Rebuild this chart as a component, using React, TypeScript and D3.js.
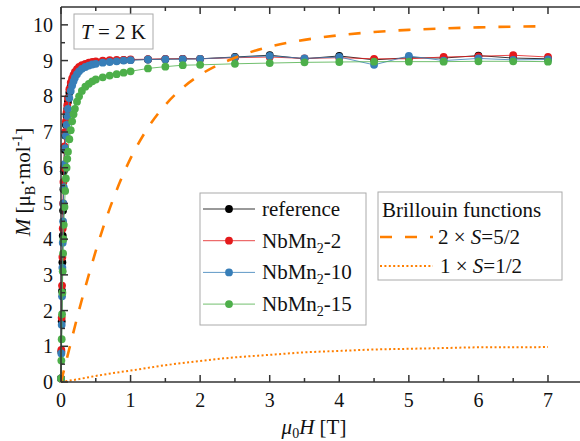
import React from 'react';
import * as d3 from 'd3';

// applied field (T), shared by all measured series
const fieldT = [
  0, 0.005, 0.01, 0.015, 0.02, 0.025, 0.03, 0.035, 0.04,
  0.05, 0.06, 0.07, 0.08, 0.09, 0.1,
  0.12, 0.14, 0.16, 0.18, 0.2,
  0.23, 0.26, 0.3,
  0.35, 0.4, 0.45, 0.5,
  0.6, 0.7, 0.8, 0.9, 1.0,
  1.25, 1.5, 1.75, 2.0,
  2.5, 3.0, 3.5, 4.0, 4.5, 5.0, 5.5, 6.0, 6.5, 7.0,
];

const referenceM = [
  0.1, 0.85, 1.7, 2.55, 3.35, 4.1, 4.8, 5.4, 5.9,
  6.5, 6.9, 7.2, 7.45, 7.65, 7.85,
  8.1, 8.3, 8.42, 8.52, 8.6,
  8.7, 8.77, 8.83,
  8.88, 8.91, 8.94, 8.96,
  8.98, 8.99, 9.0, 9.01, 9.02,
  9.03, 9.04, 9.05, 9.05,
  9.1, 9.15, 9.05, 9.13, 9.02, 9.08, 9.07, 9.14, 9.07, 9.05,
];

const nbmn2M = [
  0.1, 0.9, 1.8, 2.7, 3.5, 4.3, 5.0, 5.6, 6.0,
  6.6, 7.0, 7.3, 7.55, 7.75, 7.95,
  8.2, 8.38, 8.5, 8.6, 8.68,
  8.76, 8.82, 8.87,
  8.91, 8.94, 8.96, 8.98,
  9.0, 9.01, 9.02, 9.02, 9.03,
  9.04, 9.05, 9.05, 9.05,
  9.08, 9.1, 9.06, 9.08, 9.05, 9.05, 9.1, 9.12, 9.15, 9.1,
];

const nbmn10M = [
  0.1, 0.8, 1.6, 2.4, 3.2, 3.9, 4.5, 5.0, 5.45,
  6.1, 6.55, 6.9, 7.2, 7.45, 7.65,
  7.95, 8.15, 8.3, 8.42, 8.52,
  8.62, 8.7, 8.77,
  8.82, 8.86, 8.89, 8.91,
  8.94, 8.96, 8.98, 9.0, 9.01,
  9.03, 9.04, 9.04, 9.05,
  9.09, 9.13, 9.06, 9.1, 8.88, 9.13, 9.0, 9.06, 9.02, 9.03,
];

const nbmn15M = [
  0.1, 0.6, 1.2, 1.9, 2.5, 3.1, 3.6, 4.0, 4.4,
  4.9, 5.35, 5.7, 6.0, 6.25, 6.45,
  6.8, 7.05, 7.3, 7.5, 7.65,
  7.85, 8.0, 8.15,
  8.27, 8.35, 8.42, 8.47,
  8.53, 8.58, 8.62, 8.66, 8.7,
  8.78, 8.83, 8.87, 8.88,
  8.91, 8.93, 8.95, 8.96, 8.97, 8.97, 8.97, 8.98, 8.98, 8.97,
];

// Brillouin curves
const brill52H = [0, 0.05, 0.1, 0.15, 0.25, 0.35, 0.5, 0.65, 0.75, 0.9, 1, 1.25, 1.5, 1.75, 2, 2.5, 3, 3.5, 4, 4.5, 5, 5.5, 6, 6.5, 7];
const brill52M = [0, 0.39, 0.78, 1.17, 1.94, 2.66, 3.67, 4.58, 5.12, 5.84, 6.26, 7.12, 7.76, 8.24, 8.6, 9.08, 9.39, 9.58, 9.71, 9.8, 9.86, 9.9, 9.93, 9.95, 9.96];
const brill12H = [0, 0.25, 0.5, 0.75, 1, 1.5, 2, 2.5, 3, 3.5, 4, 4.5, 5, 5.5, 6, 6.5, 7];
const brill12M = [0, 0.08, 0.17, 0.25, 0.32, 0.47, 0.59, 0.69, 0.76, 0.83, 0.87, 0.91, 0.93, 0.95, 0.97, 0.97, 0.98];

const xTicks = [0, 1, 2, 3, 4, 5, 6, 7];
const xMinor = [0.5, 1.5, 2.5, 3.5, 4.5, 5.5, 6.5];
const yTicks = [0, 1, 2, 3, 4, 5, 6, 7, 8, 9, 10];
const yMinor = [0.5, 1.5, 2.5, 3.5, 4.5, 5.5, 6.5, 7.5, 8.5, 9.5];

const series = [
  { name: 'reference', sub: '', color: '#000000', values: referenceM },
  { name: 'NbMn', sub: '-2', color: '#E41A1C', values: nbmn2M },
  { name: 'NbMn', sub: '-10', color: '#377EB8', values: nbmn10M },
  { name: 'NbMn', sub: '-15', color: '#4DAF4A', values: nbmn15M },
];

const ORANGE = '#FF7F00';
const W = 580;
const H = 441;
const margin = { left: 61, top: 7, bottom: 382 };
const font = "Tinos, 'Noto Serif', FreeSerif, 'Nimbus Roman', Times, 'Liberation Serif', serif";

export default function App() {
  const x = d3.scaleLinear().domain([0, 7.5]).range([margin.left, margin.left + 69.57 * 7.5]);
  const y = d3.scaleLinear().domain([0, 10.5]).range([margin.bottom, margin.top]);
  const right = x(7.5);

  const seriesLine = d3.line<number>().x((_, i) => x(fieldT[i])).y(d => y(d));
  const curve52 = d3.line<number>().x((_, i) => x(brill52H[i])).y(d => y(d)).curve(d3.curveMonotoneX);
  const curve12 = d3.line<number>().x((_, i) => x(brill12H[i])).y(d => y(d)).curve(d3.curveMonotoneX);

  const axisColor = '#333';
  const legendY = (i: number) => 209 + i * 31.7;
  const fs = 21;

  return (
    <svg width={W} height={H} style={{ position: 'absolute', left: 0, top: 0, background: '#fff' }} fontFamily={font}>
      <rect x={0} y={0} width={W} height={H} fill="#fff" />

      {/* data */}
      {series.map(s => (
        <g key={s.color}>
          <path d={seriesLine(s.values) || ''} fill="none" stroke={s.color} strokeWidth={1} strokeOpacity={0.8} />
          {s.values.map((v, i) => (
            <circle key={i} cx={x(fieldT[i])} cy={y(v)} r={3.9} fill={s.color} />
          ))}
        </g>
      ))}

      {/* Brillouin functions */}
      <path d={curve52(brill52M) || ''} fill="none" stroke={ORANGE} strokeWidth={2.6} strokeDasharray="12 13" />
      <path d={curve12(brill12M) || ''} fill="none" stroke={ORANGE} strokeWidth={2} strokeDasharray="2 2.4" />

      {/* frame */}
      <g stroke={axisColor} strokeWidth={1.5}>
        <line x1={margin.left} x2={margin.left} y1={margin.top} y2={margin.bottom} />
        <line x1={margin.left} x2={right} y1={margin.bottom} y2={margin.bottom} />
        <line x1={margin.left} x2={right} y1={margin.top} y2={margin.top} />
        {xTicks.map(t => (
          <g key={'xt' + t}>
            <line x1={x(t)} x2={x(t)} y1={margin.bottom} y2={margin.bottom - 7} />
            <line x1={x(t)} x2={x(t)} y1={margin.top} y2={margin.top + 7} />
          </g>
        ))}
        {xMinor.map(t => (
          <g key={'xm' + t}>
            <line x1={x(t)} x2={x(t)} y1={margin.bottom} y2={margin.bottom - 4} />
            <line x1={x(t)} x2={x(t)} y1={margin.top} y2={margin.top + 4} />
          </g>
        ))}
        {yTicks.map(t => (
          <line key={'yt' + t} x1={margin.left} x2={margin.left + 7} y1={y(t)} y2={y(t)} />
        ))}
        {yMinor.map(t => (
          <line key={'ym' + t} x1={margin.left} x2={margin.left + 4} y1={y(t)} y2={y(t)} />
        ))}
      </g>

      {/* tick labels */}
      <g fontSize={20} fill="#111">
        {xTicks.map(t => (
          <text key={'xl' + t} x={x(t)} y={407} textAnchor="middle">{t}</text>
        ))}
        {yTicks.map(t => (
          <text key={'yl' + t} x={53} y={y(t) + 7} textAnchor="end">{t}</text>
        ))}
      </g>

      {/* axis titles */}
      <text x={314} y={434} fontSize={fs} textAnchor="middle" fill="#111">
        <tspan fontStyle="italic">μ</tspan>
        <tspan fontSize={14} dy={4}>0</tspan>
        <tspan fontStyle="italic" dy={-4}>H</tspan>
        <tspan> [T]</tspan>
      </text>
      <text transform="translate(30,182) rotate(-90)" fontSize={fs} textAnchor="middle" fill="#111">
        <tspan fontStyle="italic">M</tspan>
        <tspan> [μ</tspan>
        <tspan fontSize={14} dy={5}>B</tspan>
        <tspan dy={-5}>·mol</tspan>
        <tspan fontSize={14} dy={-8}>-1</tspan>
        <tspan dy={8}>]</tspan>
      </text>

      {/* T = 2 K box */}
      <rect x={74} y={14} width={79} height={35} fill="#fff" stroke="#aaa" strokeWidth={1} />
      <text x={113.5} y={38.5} fontSize={fs} textAnchor="middle" fill="#111">
        <tspan fontStyle="italic">T</tspan>
        <tspan> = 2 K</tspan>
      </text>

      {/* series legend */}
      <rect x={200} y={193} width={166} height={132} fill="#fff" stroke="#aaa" strokeWidth={1} />
      {series.map((s, i) => (
        <g key={'lg' + i}>
          <line x1={203} x2={255} y1={legendY(i)} y2={legendY(i)} stroke={s.color} strokeWidth={1} strokeOpacity={0.8} />
          <circle cx={229} cy={legendY(i)} r={3.9} fill={s.color} />
          <text x={262} y={legendY(i) + 7} fontSize={fs} fill="#111">
            {s.sub === '' ? (
              s.name
            ) : (
              <>
                <tspan>{s.name}</tspan>
                <tspan fontSize={14} dy={5}>2</tspan>
                <tspan dy={-5}>{s.sub}</tspan>
              </>
            )}
          </text>
        </g>
      ))}

      {/* Brillouin legend */}
      <rect x={378} y={192} width={184} height={88} fill="#fff" stroke="#aaa" strokeWidth={1} />
      <text x={382} y={217} fontSize={fs} fill="#111">Brillouin functions</text>
      <line x1={380} x2={433} y1={237} y2={237} stroke={ORANGE} strokeWidth={2.6} strokeDasharray="12 13" />
      <text x={438} y={244} fontSize={fs} fill="#111">
        <tspan>2 × </tspan>
        <tspan fontStyle="italic">S</tspan>
        <tspan>=5/2</tspan>
      </text>
      <line x1={380} x2={433} y1={266} y2={266} stroke={ORANGE} strokeWidth={2} strokeDasharray="2 2.4" />
      <text x={440} y={273} fontSize={fs} fill="#111">
        <tspan>1 × </tspan>
        <tspan fontStyle="italic">S</tspan>
        <tspan>=1/2</tspan>
      </text>
    </svg>
  );
}
